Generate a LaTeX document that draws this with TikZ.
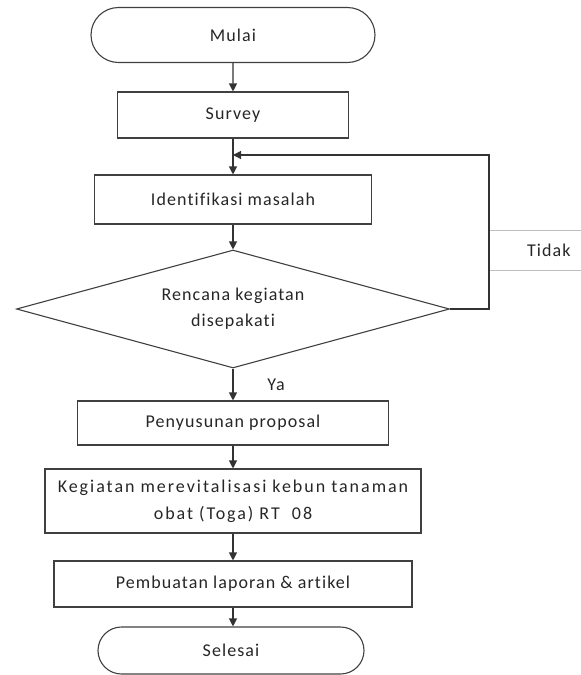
\documentclass[tikz,border=0pt]{standalone}
\usepackage{fontspec}
\setmainfont{Carlito}[LetterSpace=6, Ligatures=NoCommon]
\usetikzlibrary{arrows.meta,shapes.geometric,shapes.misc}

\tikzset{
  box/.style={draw=black!75, line width=1.1pt, rectangle, align=center, inner sep=0pt, text=black!85},
  terminal/.style={box, rounded rectangle},
  decision/.style={draw=black!75, line width=1.1pt, diamond, aspect=3.67, inner sep=0pt, align=center, text=black!85},
  line/.style={draw=black!80, line width=1.1pt},
  label/.style={text=black!85, inner sep=0pt},
}

\begin{document}
\begin{tikzpicture}[x=1pt, y=-1pt, >={Triangle[length=8pt,width=8pt]}, font=\fontsize{18}{26}\selectfont]
    \useasboundingbox (0,0) rectangle (581,675);
    % langkah-langkah
    \node[terminal, minimum width=284pt, minimum height=55pt] (mulai) at (233,35) {Mulai};
    \node[box, minimum width=231pt, minimum height=46pt] (survey) at (233,115) {Survey};
    \node[box, minimum width=277pt, minimum height=49pt] (ident) at (233,199.5) {Identifikasi masalah};
    \node[decision, minimum width=433pt, minimum height=118pt] (sepakat) at (233,309) {Rencana kegiatan\\disepakati};
    \node[box, minimum width=311pt, minimum height=44pt] (proposal) at (233,423) {Penyusunan proposal};
    \node[box, minimum width=376pt, minimum height=64pt, font={\fontsize{18}{27}\selectfont\addfontfeatures{LetterSpace=11}}] (kegiatan) at (233,501) {Kegiatan merevitalisasi kebun tanaman\\obat (Toga) RT~ 08};
    \node[box, minimum width=358pt, minimum height=46pt] (laporan) at (233,584) {Pembuatan laporan \& artikel};
    \node[terminal, minimum width=266pt, minimum height=47pt] (selesai) at (231,650.5) {Selesai};
    % label
    \node[label] (ya) at (276,385) {Ya};
    \node[label, text width=70pt, align=right, inner xsep=10.5pt, minimum height=39pt] (tidak) at (535.5,250.5) {Tidak};
    \draw[black!25, line width=0.8pt] (tidak.north west) -- (tidak.north east) (tidak.south west) -- (tidak.south east);
    % panah
    \draw[line,->] (mulai) -- (survey);
    \draw[line,->] (survey) -- (ident);
    \draw[line,->] (ident) -- (sepakat);
    \draw[line,->] (sepakat) -- (proposal);
    \draw[line,->] (proposal) -- (kegiatan);
    \draw[line,->] (kegiatan) -- (laporan);
    \draw[line,->] (laporan) -- (selesai.north -| laporan);
    \coordinate (pojok) at (489,155);
    \coordinate (masuk) at (233,155);
    \draw[line,->] (sepakat.east) -| (pojok) -- (masuk);
\end{tikzpicture}
\end{document}
